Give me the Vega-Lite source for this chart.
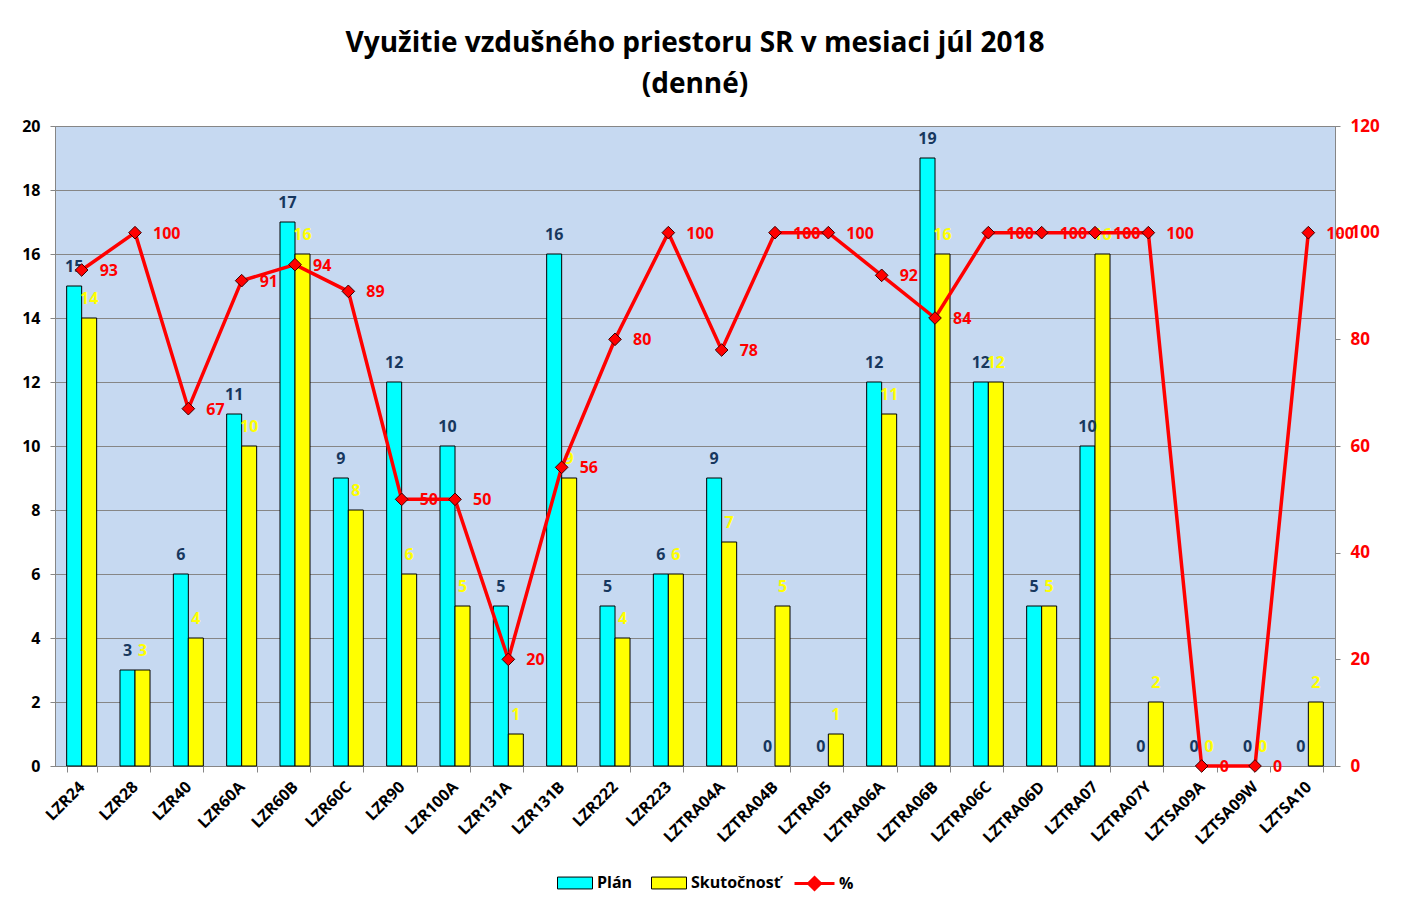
{
  "$schema": "https://vega.github.io/schema/vega-lite/v6.json",
  "width": 1280,
  "height": 640,
  "autosize": {"type": "none"},
  "padding": {"left": 55, "top": 126, "right": 67, "bottom": 141},
  "background": "white",
  "config": {
    "font": "Open Sans",
    "view": {"stroke": "#868686", "fill": "#C6D9F1"},
    "axis": {"labelFont": "Open Sans", "labelFontWeight": "bold", "labelFontSize": 16, "labelColor": "#000000", "domainColor": "#868686", "tickColor": "#868686", "titleFontSize": 0},
    "legend": {"labelFont": "Open Sans", "labelFontWeight": "bold", "labelFontSize": 16, "labelColor": "#000000"}
  },
  "title": {
    "text": ["Využitie vzdušného priestoru SR v mesiaci júl 2018", "(denné)"],
    "font": "Open Sans",
    "fontSize": 28,
    "fontWeight": "bold",
    "color": "#000000",
    "lineHeight": 41,
    "anchor": "middle",
    "offset": 18
  },
  "data": {
    "values": [
      {"cat": "LZR24", "Plán": 15, "Skutočnosť": 14, "pct": 93},
      {"cat": "LZR28", "Plán": 3, "Skutočnosť": 3, "pct": 100},
      {"cat": "LZR40", "Plán": 6, "Skutočnosť": 4, "pct": 67},
      {"cat": "LZR60A", "Plán": 11, "Skutočnosť": 10, "pct": 91},
      {"cat": "LZR60B", "Plán": 17, "Skutočnosť": 16, "pct": 94},
      {"cat": "LZR60C", "Plán": 9, "Skutočnosť": 8, "pct": 89},
      {"cat": "LZR90", "Plán": 12, "Skutočnosť": 6, "pct": 50},
      {"cat": "LZR100A", "Plán": 10, "Skutočnosť": 5, "pct": 50},
      {"cat": "LZR131A", "Plán": 5, "Skutočnosť": 1, "pct": 20},
      {"cat": "LZR131B", "Plán": 16, "Skutočnosť": 9, "pct": 56},
      {"cat": "LZR222", "Plán": 5, "Skutočnosť": 4, "pct": 80},
      {"cat": "LZR223", "Plán": 6, "Skutočnosť": 6, "pct": 100},
      {"cat": "LZTRA04A", "Plán": 9, "Skutočnosť": 7, "pct": 78},
      {"cat": "LZTRA04B", "Plán": 0, "Skutočnosť": 5, "pct": 100},
      {"cat": "LZTRA05", "Plán": 0, "Skutočnosť": 1, "pct": 100},
      {"cat": "LZTRA06A", "Plán": 12, "Skutočnosť": 11, "pct": 92},
      {"cat": "LZTRA06B", "Plán": 19, "Skutočnosť": 16, "pct": 84},
      {"cat": "LZTRA06C", "Plán": 12, "Skutočnosť": 12, "pct": 100},
      {"cat": "LZTRA06D", "Plán": 5, "Skutočnosť": 5, "pct": 100},
      {"cat": "LZTRA07", "Plán": 10, "Skutočnosť": 16, "pct": 100},
      {"cat": "LZTRA07Y", "Plán": 0, "Skutočnosť": 2, "pct": 100},
      {"cat": "LZTSA09A", "Plán": 0, "Skutočnosť": 0, "pct": 0},
      {"cat": "LZTSA09W", "Plán": 0, "Skutočnosť": 0, "pct": 0},
      {"cat": "LZTSA10", "Plán": 0, "Skutočnosť": 2, "pct": 100}
    ]
  },
  "encoding": {
    "x": {
      "field": "cat",
      "type": "nominal",
      "sort": null,
      "title": null,
      "scale": {"paddingInner": 0.4375, "paddingOuter": 0.21875},
      "axis": {"labelAngle": -45, "labelAlign": "right", "labelBaseline": "middle", "labelFontSize": 16, "tickBand": "extent", "tickSize": 6, "labelPadding": 12, "domainColor": "#868686"}
    }
  },
  "layer": [
    {
      "transform": [{"fold": ["Plán", "Skutočnosť"], "as": ["key", "value"]}],
      "encoding": {
        "xOffset": {"field": "key", "type": "nominal", "sort": ["Plán", "Skutočnosť"], "scale": {"paddingInner": 0, "paddingOuter": 0}},
        "y": {"field": "value", "type": "quantitative", "title": null, "scale": {"domain": [0, 20], "nice": false}, "axis": {"values": [0, 2, 4, 6, 8, 10, 12, 14, 16, 18, 20], "grid": true, "gridColor": "#868686", "gridOpacity": 1, "tickSize": 5, "labelPadding": 10, "domain": true}}
      },
      "layer": [
        {
          "mark": {"type": "bar", "stroke": "#000000", "strokeWidth": 1},
          "encoding": {
            "strokeOpacity": {"condition": {"test": "datum.value === 0", "value": 0}, "value": 1},
            "color": {
              "field": "key",
              "type": "nominal",
              "title": null,
              "scale": {"domain": ["Plán", "Skutočnosť"], "range": ["#00FFFF", "#FFFF00"]},
              "legend": {
                "orient": "none",
                "legendX": 502,
                "legendY": 739,
                "direction": "horizontal",
                "symbolType": "M-1,-0.34H1V0.34H-1Z",
                "symbolSize": 1225,
                "symbolStrokeColor": "#000000",
                "symbolStrokeWidth": 1,
                "columnPadding": 16,
                "labelOffset": 4
              }
            }
          }
        },
        {
          "mark": {"type": "text", "fontWeight": "bold", "fontSize": 16, "baseline": "middle", "dy": -19},
          "encoding": {
            "text": {"field": "value", "type": "quantitative"},
            "color": {"condition": {"test": "datum.key === 'Plán'", "value": "#17375E"}, "value": "#FFFF00"}
          }
        }
      ]
    },
    {
      "encoding": {
        "y": {"field": "pct", "type": "quantitative", "title": null, "scale": {"domain": [0, 120], "nice": false}, "axis": {"orient": "right", "values": [0, 20, 40, 60, 80, 100, 120], "grid": false, "labelColor": "#FF0000", "labelFontSize": 17, "tickSize": 5, "labelPadding": 10}}
      },
      "layer": [
        {
          "mark": {"type": "line", "strokeWidth": 3.5},
          "encoding": {
            "stroke": {
              "datum": "%",
              "type": "nominal",
              "scale": {"domain": ["%"], "range": ["#FF0000"]},
              "legend": {
                "title": null,
                "orient": "none",
                "legendX": 738,
                "legendY": 736,
                "symbolType": "M-1,0H1M0,-0.3L0.3,0L0,0.3L-0.3,0Z",
                "symbolSize": 1600,
                "symbolStrokeWidth": 3,
                "symbolFillColor": "#FF0000",
                "labelOffset": 3
              }
            }
          }
        },
        {"mark": {"type": "point", "shape": "diamond", "filled": true, "fill": "#FF0000", "stroke": "#3A0000", "strokeWidth": 1, "size": 160, "opacity": 1}, "encoding": {}},
        {
          "mark": {"type": "text", "fontWeight": "bold", "fontSize": 16, "align": "left", "baseline": "middle", "dx": 18, "dy": 1, "color": "#FF0000"},
          "encoding": {"text": {"field": "pct", "type": "quantitative"}}
        }
      ]
    }
  ],
  "resolve": {"scale": {"y": "independent"}}
}
